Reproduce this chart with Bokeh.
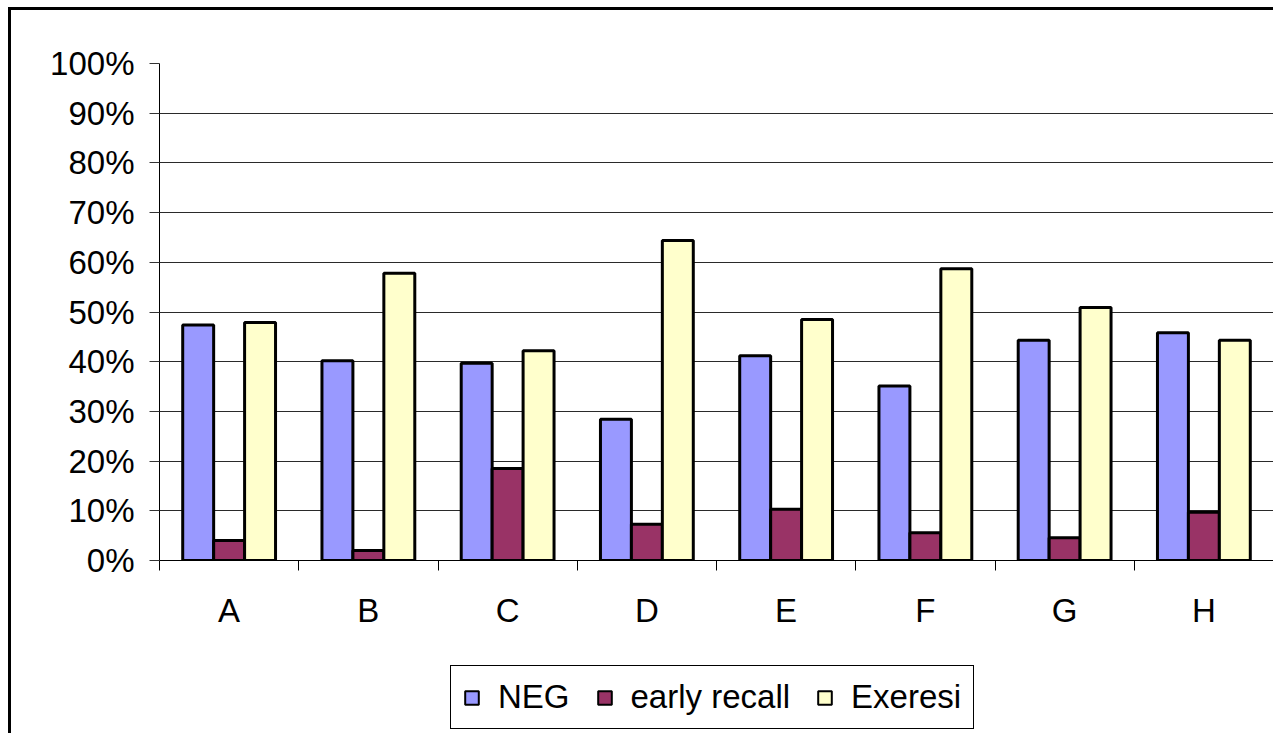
import numpy as np
from bokeh.plotting import figure
from bokeh.layouts import column
from bokeh.models import (ColumnDataSource, Range1d, FixedTicker, NumeralTickFormatter,
                          Legend, LegendItem)
from bokeh.embed import file_html
from bokeh.resources import INLINE

categories = ["A", "B", "C", "D", "E", "F", "G", "H"]
neg = [0.474, 0.402, 0.397, 0.284, 0.412, 0.351, 0.443, 0.458]
early_recall = [0.040, 0.020, 0.185, 0.073, 0.103, 0.056, 0.046, 0.097]
exeresi = [0.479, 0.578, 0.422, 0.644, 0.485, 0.587, 0.509, 0.443]
y_ticks = [0.0, 0.1, 0.2, 0.3, 0.4, 0.5, 0.6, 0.7, 0.8, 0.9, 1.0]

series = [("NEG", neg, "#9999FF"),
          ("early recall", early_recall, "#993366"),
          ("Exeresi", exeresi, "#FFFFCC")]

FONT = "Liberation Sans"
FS = "33px"

n = len(categories)
centers = np.arange(n) + 0.5
bw = 1.0 / 4.5

W = 1265
p = figure(width=W, height=624, output_backend="svg", toolbar_location=None,
           x_range=Range1d(0, n), y_range=Range1d(0, 1.0),
           min_border_left=148, min_border_top=53, min_border_bottom=74,
           min_border_right=3)
p.styles = {"border-left": "3px solid black", "border-top": "3px solid black",
            "margin-left": "8px", "margin-top": "7px"}
p.outline_line_color = None
p.background_fill_color = "white"
p.border_fill_color = "white"

for i, (name, vals, color) in enumerate(series):
    src = ColumnDataSource(dict(x=centers + (i - 1) * bw, top=vals))
    p.vbar(x="x", top="top", bottom=0, width=bw, source=src,
           fill_color=color, line_color="black", line_width=3)

# x axis: ticks at category boundaries (minor), labels at centers (major)
p.xaxis.ticker = FixedTicker(ticks=list(centers), minor_ticks=list(range(n + 1)))
p.xaxis.major_label_overrides = {float(c): cat for c, cat in zip(centers, categories)}
p.xaxis.major_tick_out = 0
p.xaxis.major_tick_in = 0
p.xaxis.minor_tick_out = 10
p.xaxis.minor_tick_in = 0
p.xaxis.minor_tick_line_color = "black"
p.xaxis.axis_line_color = "black"
p.xaxis.major_label_standoff = 21
p.xaxis.major_label_text_font = FONT
p.xaxis.major_label_text_font_size = FS
p.xaxis.major_label_text_color = "black"

p.yaxis.ticker = FixedTicker(ticks=y_ticks, minor_ticks=[])
p.yaxis.formatter = NumeralTickFormatter(format="0%")
p.yaxis.major_tick_out = 10
p.yaxis.major_tick_in = 0
p.yaxis.axis_line_color = "black"
p.yaxis.major_tick_line_color = "#333333"
p.yaxis.major_label_standoff = 15
p.yaxis.major_label_text_font = FONT
p.yaxis.major_label_text_font_size = FS
p.yaxis.major_label_text_color = "black"

p.xgrid.grid_line_color = None
p.ygrid.grid_line_color = "#2a2a2a"
p.ygrid.grid_line_width = 1

# legend strip below the chart
p2 = figure(width=W, height=102, output_backend="svg", toolbar_location=None,
            x_range=Range1d(0, 1), y_range=Range1d(0, 1),
            x_axis_type=None, y_axis_type=None,
            min_border_left=0, min_border_right=0, min_border_top=0, min_border_bottom=0)
p2.styles = {"border-left": "3px solid black", "margin-left": "8px"}
p2.outline_line_color = None
p2.xgrid.grid_line_color = None
p2.ygrid.grid_line_color = None
p2.background_fill_color = "white"
p2.border_fill_color = "white"

items = []
for name, vals, color in series:
    # legend swatch only: placed outside the visible range
    r = p2.rect(x=[-5], y=[-5], width=1, height=1, fill_color=color,
                line_color="black", line_width=2)
    items.append(LegendItem(label=name, renderers=[r]))

legend = Legend(items=items, orientation="horizontal", location=(291, 4),
                label_text_font=FONT, label_text_font_size=FS, label_text_color="black",
                glyph_width=17, glyph_height=17, label_standoff=18, spacing=26,
                padding=12, margin=0, border_line_color="black", border_line_width=1,
                border_line_alpha=1.0,
                background_fill_color="white", background_fill_alpha=1.0)
p2.add_layout(legend, "center")

open("out.html", "w").write(file_html(column(p, p2, spacing=0), INLINE))
